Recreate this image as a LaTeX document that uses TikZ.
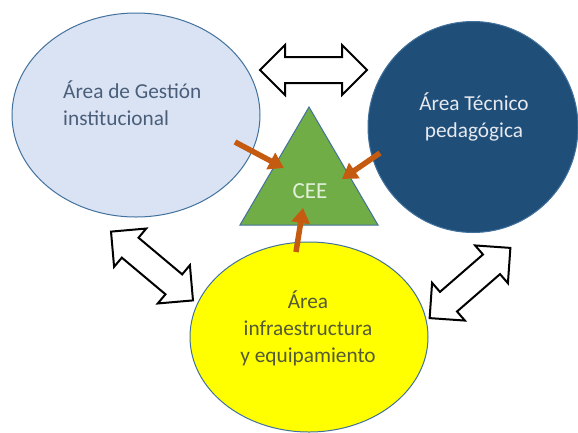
\documentclass[tikz,border=0pt]{standalone}
\usepackage{fontspec}
\setmainfont{Carlito}
\usetikzlibrary{shapes.geometric,arrows.meta}
\definecolor{gestfill}{HTML}{DAE3F3}
\definecolor{gesttext}{HTML}{4A5E7A}
\definecolor{shapeline}{HTML}{41719C}
\definecolor{tecfill}{HTML}{1F4E79}
\definecolor{tectext}{HTML}{E6EAF0}
\definecolor{infrafill}{HTML}{FFFF00}
\definecolor{infratext}{HTML}{545A36}
\definecolor{ceefill}{HTML}{70AD47}
\definecolor{ceetext}{HTML}{E2F0D9}
\definecolor{orangearr}{HTML}{C55A11}
\newcommand{\dblarrow}[3]{%
  \begin{scope}[shift={(#1,#2)},rotate=#3]
    \draw[blockarr] (-53.5,0) -- (-28.5,25) -- (-28.5,13) -- (28.5,13) -- (28.5,25)
      -- (53.5,0) -- (28.5,-25) -- (28.5,-13) -- (-28.5,-13) -- (-28.5,-25) -- cycle;
  \end{scope}}
\begin{document}
\begin{tikzpicture}[x=1pt,y=-1pt,
  area/.style={ellipse,draw=shapeline,line width=1pt,inner sep=0pt},
  lbl/.style={font=\fontsize{21.3}{27}\selectfont,inner sep=0pt},
  blockarr/.style={draw=black,fill=white,line width=2pt,line join=miter},
  feed/.style={draw=orangearr,line width=5.5pt,-{Triangle[width=18pt,length=15pt]}}]
\useasboundingbox (0,0) rectangle (578,432);
\fill[white] (0,0) rectangle (578,432);
% ellipses
\node[area,fill=gestfill,minimum width=248pt,minimum height=204pt] (gest) at (136,115) {};
\node[area,fill=tecfill,minimum width=210pt,minimum height=211pt] (tec) at (473,127) {};
\node[area,fill=infrafill,minimum width=238pt,minimum height=190pt] (infra) at (309,337) {};
% triangle
\coordinate (tA) at (309,107);
\coordinate (tB) at (240,225);
\coordinate (tC) at (378,225);
\filldraw[fill=ceefill,draw=shapeline,line width=1pt,line join=miter] (tA) -- (tB) -- (tC) -- cycle;
\node[lbl,font=\fontsize{23}{27}\selectfont,text=ceetext,anchor=base] (cee) at (310,198) {CEE};
% texts
\node[lbl,text=gesttext,anchor=base west] (g1) at (63,98) {Área de Gestión};
\node[lbl,text=gesttext,anchor=base west] (g2) at (63,125) {institucional};
\node[lbl,text=tectext,anchor=base] (t1) at (474,110) {Área Técnico};
\node[lbl,text=tectext,anchor=base] (t2) at (474,137) {pedagógica};
\node[lbl,text=infratext,anchor=base] (i1) at (308,308) {Área};
\node[lbl,text=infratext,anchor=base] (i2) at (308,335) {infraestructura};
\node[lbl,text=infratext,anchor=base] (i3) at (308,362) {y equipamiento};
% orange arrows
\coordinate (a1s) at (235,142);
\coordinate (a1e) at (284,168);
\coordinate (a2s) at (380,153);
\coordinate (a2e) at (342,179);
\coordinate (a3s) at (296,252);
\coordinate (a3e) at (303,208);
\draw[feed] (a1s) -- (a1e);
\draw[feed] (a2s) -- (a2e);
\draw[feed] (a3s) -- (a3e);
% block double arrows
\dblarrow{313.5}{70}{0}
\dblarrow{152}{266}{-40}
\dblarrow{470}{283}{41}
\end{tikzpicture}
\end{document}
